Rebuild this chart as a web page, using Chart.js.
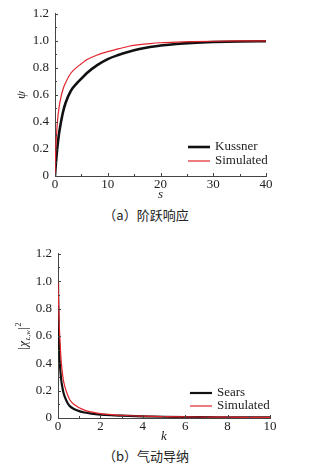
<!DOCTYPE html>
<html lang="zh">
<head>
<meta charset="UTF-8" />
<title>Kussner / Sears</title>
<script src="https://cdn.jsdelivr.net/npm/chart.js"></script>
<style>
  body { margin: 0; background: #fff; width: 323px; height: 466px; position: relative; overflow: hidden; }
  canvas { position: absolute; left: 0; }
  #c1 { top: 0; }
  #c2 { top: 240px; }
  .cap { position: absolute; left: 0; width: 292px; text-align: center; line-height: 16px;
         font-size: 13px; font-family: "Noto Sans CJK SC", "Liberation Serif", serif; color: #222; }
</style>
</head>
<body>
<canvas id="c1" width="323" height="202"></canvas>
<div class="cap" style="top:207px">（a）阶跃响应</div>
<canvas id="c2" width="323" height="204"></canvas>
<div class="cap" style="top:448px">（b）气动导纳</div>

<script>
// (a) step response
const sVals = [0, 0.1, 0.25, 0.5, 0.75, 1, 1.5, 2, 3, 4, 5, 6, 8, 10, 12, 14, 16, 18, 20, 23, 26, 30, 35, 40];
const kussner = [0, 0.06, 0.13, 0.23, 0.31, 0.37, 0.47, 0.54, 0.63, 0.68, 0.72, 0.76, 0.82, 0.865, 0.895, 0.92, 0.94, 0.955, 0.965, 0.977, 0.985, 0.991, 0.995, 0.997];
const simA = [0, 0.15, 0.28, 0.42, 0.5, 0.56, 0.64, 0.69, 0.76, 0.8, 0.83, 0.86, 0.895, 0.92, 0.94, 0.96, 0.972, 0.98, 0.986, 0.991, 0.994, 0.997, 0.999, 1.0];

// (b) aerodynamic admittance
const kVals = [0, 0.02, 0.05, 0.08, 0.12, 0.16, 0.2, 0.25, 0.33, 0.45, 0.57, 0.75, 1, 1.25, 1.5, 2, 2.5, 3, 4, 5, 6, 7, 8, 9, 10];
const sears = [1.0, 0.75, 0.55, 0.42, 0.33, 0.27, 0.23, 0.19, 0.15, 0.11, 0.085, 0.066, 0.05, 0.04, 0.034, 0.025, 0.02, 0.017, 0.012, 0.009, 0.007, 0.006, 0.005, 0.004, 0.004];
const simB = [1.0, 0.88, 0.72, 0.61, 0.49, 0.4, 0.34, 0.28, 0.225, 0.17, 0.13, 0.1, 0.075, 0.058, 0.046, 0.032, 0.025, 0.02, 0.014, 0.01, 0.008, 0.007, 0.006, 0.005, 0.004];

const SERIF = '"Liberation Serif", "Times New Roman", serif';
const AXIS = '#444';

function pts(xs, ys) {
  return xs.map((x, i) => ({ x: x, y: ys[i] }));
}

// inward ticks, legend inside the plot, and the |chi|^2 title
const axisDecor = {
  id: 'axisDecor',
  afterDraw(chart, args, opts) {
    const ctx = chart.ctx;
    const x = chart.scales.x, y = chart.scales.y;
    ctx.save();
    ctx.strokeStyle = AXIS;
    ctx.lineWidth = 1;
    x.ticks.forEach((t) => {
      const px = Math.round(x.getPixelForValue(t.value)) + 0.5;
      const len = t.label === '' ? 2 : 3;
      ctx.beginPath(); ctx.moveTo(px, y.bottom); ctx.lineTo(px, y.bottom - len); ctx.stroke();
    });
    y.ticks.forEach((t) => {
      const py = Math.round(y.getPixelForValue(t.value)) + 0.5;
      const len = t.label === '' ? 2 : 3;
      ctx.beginPath(); ctx.moveTo(x.left, py); ctx.lineTo(x.left + len, py); ctx.stroke();
    });

    // legend
    ctx.font = '13px ' + SERIF;
    ctx.textBaseline = 'middle';
    ctx.fillStyle = '#222';
    opts.legend.rows.forEach((row, i) => {
      const ds = chart.data.datasets[row];
      const ly = opts.legend.y[i];
      ctx.strokeStyle = ds.borderColor;
      ctx.lineWidth = ds.borderWidth;
      ctx.beginPath(); ctx.moveTo(opts.legend.x, ly); ctx.lineTo(opts.legend.x + 22, ly); ctx.stroke();
      ctx.fillText(ds.label, opts.legend.x + 27, ly);
    });

    if (opts.chi) {
      ctx.translate(opts.chi, (y.top + y.bottom) / 2);
      ctx.rotate(-Math.PI / 2);
      ctx.textBaseline = 'alphabetic';
      const parts = [
        ['|', '13px ' + SERIF, 0],
        ['χ', 'italic 13px ' + SERIF, 0],
        ['L,w', 'italic 7px ' + SERIF, 3],
        ['|', '13px ' + SERIF, 0],
        ['2', '8px ' + SERIF, -6]
      ];
      let w = 0;
      parts.forEach((p) => { ctx.font = p[1]; w += ctx.measureText(p[0]).width + 0.5; });
      let cx = -w / 2;
      parts.forEach((p) => {
        ctx.font = p[1];
        ctx.fillText(p[0], cx, p[2]);
        cx += ctx.measureText(p[0]).width + 0.5;
      });
    }
    ctx.restore();
  }
};

function makeChart(id, cfg) {
  new Chart(document.getElementById(id), {
    type: 'line',
    data: {
      datasets: [
        { label: cfg.names[0], data: pts(cfg.xs, cfg.black), borderColor: '#111', borderWidth: cfg.blackW, order: 2 },
        { label: cfg.names[1], data: pts(cfg.xs, cfg.red), borderColor: '#e3232c', borderWidth: 1.2, order: 1 }
      ]
    },
    options: {
      responsive: false,
      animation: false,
      layout: { padding: { top: cfg.padTop, right: cfg.padRight, left: 0, bottom: 0 } },
      elements: { point: { radius: 0 }, line: { cubicInterpolationMode: 'monotone' } },
      plugins: {
        legend: { display: false },
        tooltip: { enabled: false },
        axisDecor: { legend: cfg.legend, chi: cfg.chi }
      },
      scales: {
        x: {
          type: 'linear', min: 0, max: cfg.xMax,
          afterFit: (s) => { s.height = cfg.xH; },
          grid: { display: false, drawTicks: false },
          border: { display: true, color: AXIS, width: 1 },
          ticks: {
            stepSize: cfg.xStep, autoSkip: false, maxRotation: 0, padding: 1, color: '#222',
            font: { family: SERIF, size: 13 },
            callback: (v) => (Math.round(v / cfg.xStep) % 2 ? '' : String(v))
          },
          title: { display: true, text: cfg.xTitle, padding: 0, color: '#222', font: { family: SERIF, size: 13, style: 'italic' } }
        },
        y: {
          min: 0, max: 1.2,
          afterFit: (s) => { s.width = cfg.yW; },
          grid: { display: false, drawTicks: false },
          border: { display: true, color: AXIS, width: 1 },
          ticks: {
            stepSize: 0.1, autoSkip: false, padding: 6, color: '#222',
            font: { family: SERIF, size: 13 },
            callback: (v) => {
              const r = Math.round(v * 10);
              return r % 2 ? '' : (r === 0 ? '0' : (r / 10).toFixed(1));
            }
          },
          title: { display: !!cfg.yTitle, text: cfg.yTitle, padding: { top: 14, bottom: 0 }, color: '#222', font: { family: SERIF, size: 13, style: 'italic' } }
        }
      }
    },
    plugins: [axisDecor]
  });
}

makeChart('c1', {
  xs: sVals, black: kussner, red: simA, names: ['Kussner', 'Simulated'], blackW: 2.6,
  xMax: 40, xStep: 5, xTitle: 's', yTitle: 'ψ',
  padTop: 12, padRight: 57, xH: 26, yW: 55,
  legend: { x: 188, y: [147, 161], rows: [0, 1] }
});

makeChart('c2', {
  xs: kVals, black: sears, red: simB, names: ['Sears', 'Simulated'], blackW: 2.2,
  xMax: 10, xStep: 1, xTitle: 'k', yTitle: '',
  padTop: 13, padRight: 53, xH: 26, yW: 58,
  legend: { x: 190, y: [153, 166], rows: [0, 1] },
  chi: 27
});
</script>
</body>
</html>
